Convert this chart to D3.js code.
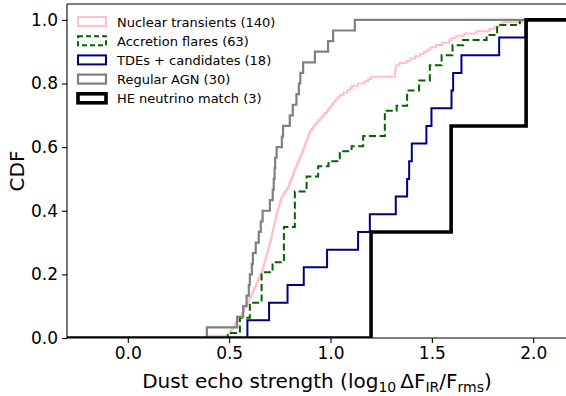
<!DOCTYPE html>
<html>
<head>
<meta charset="utf-8">
<script src="https://cdn.jsdelivr.net/npm/d3@7"></script>
<style>
    body { margin: 0; background: #fff; }
    svg { display: block; font-family: "DejaVu Sans", sans-serif; }
</style>
</head>
<body>
<svg class="cdfPlot"></svg>
<script>
// dust echo strength values (log10 dF_IR / F_rms)
const nuclearTransients = [
    0.39, 0.498, 0.505, 0.512, 0.520, 0.528, 0.535, 0.543, 0.550, 0.557,
    0.562, 0.568, 0.574, 0.580, 0.585, 0.591, 0.597, 0.603, 0.609, 0.614,
    0.619, 0.624, 0.629, 0.634, 0.639, 0.644, 0.649, 0.654, 0.659, 0.663,
    0.666, 0.669, 0.673, 0.676, 0.679, 0.682, 0.685, 0.688, 0.692, 0.695,
    0.698, 0.701, 0.704, 0.706, 0.709, 0.711, 0.714, 0.717, 0.719, 0.722,
    0.725, 0.727, 0.730, 0.732, 0.735, 0.738, 0.741, 0.745, 0.748, 0.751,
    0.754, 0.758, 0.764, 0.771, 0.779, 0.786, 0.793, 0.797, 0.801, 0.805,
    0.810, 0.814, 0.818, 0.823, 0.828, 0.833, 0.837, 0.842, 0.846, 0.851,
    0.855, 0.860, 0.864, 0.869, 0.873, 0.877, 0.881, 0.886, 0.890, 0.894,
    0.899, 0.906, 0.914, 0.921, 0.930, 0.940, 0.951, 0.962, 0.972, 0.982,
    0.990, 0.999, 1.007, 1.015, 1.024, 1.035, 1.046, 1.064, 1.084, 1.096,
    1.106, 1.136, 1.168, 1.185, 1.201, 1.317, 1.318, 1.320, 1.322, 1.325,
    1.340, 1.375, 1.394, 1.417, 1.442, 1.460, 1.477, 1.493, 1.520, 1.550,
    1.585, 1.598, 1.618, 1.660, 1.720, 1.784, 1.810, 1.832, 1.847, 1.949
];
const accretionFlares = [
    0.493, 0.553, 0.553, 0.553, 0.602, 0.602, 0.602, 0.66, 0.66, 0.66,
    0.66, 0.66, 0.66, 0.714, 0.714, 0.77, 0.77, 0.77, 0.77, 0.77,
    0.77, 0.77, 0.824, 0.824, 0.824, 0.824, 0.824, 0.824, 0.824, 0.882,
    0.882, 0.882, 0.939, 0.939, 0.99, 1.046, 1.046, 1.104, 1.161, 1.161,
    1.268, 1.268, 1.268, 1.268, 1.268, 1.326, 1.378, 1.378, 1.378, 1.437,
    1.437, 1.49, 1.49, 1.49, 1.548, 1.548, 1.602, 1.602, 1.654, 1.77,
    1.822, 1.822, 1.934
];
const tdeCandidates = [
    0.59, 0.697, 0.788, 0.868, 0.983, 1.136, 1.194, 1.322, 1.378, 1.388,
    1.401, 1.473, 1.498, 1.597, 1.605, 1.646, 1.832, 1.963
];
const regularAGN = [
    0.39, 0.539, 0.569, 0.586, 0.597, 0.602, 0.612, 0.617, 0.631, 0.646,
    0.656, 0.665, 0.701, 0.715, 0.72, 0.724, 0.727, 0.734, 0.76, 0.766,
    0.799, 0.814, 0.832, 0.844, 0.851, 0.865, 0.923, 0.988, 1.013, 1.12
];
const neutrinoMatch = [1.2, 1.595, 1.965];

const seriesNames = ["Nuclear transients (140)", "Accretion flares (63)", "TDEs + candidates (18)", "Regular AGN (30)", "HE neutrino match (3)"];
const seriesValues = [nuclearTransients, accretionFlares, tdeCandidates, regularAGN, neutrinoMatch];
const seriesColors = ["pink", "darkgreen", "navy", "grey", "black"];
const seriesWidths = [2, 2, 2, 2.2, 3.6];
const seriesDash = [null, "7,3.5", null, null, null];

const xTicks = [0, 0.5, 1.0, 1.5, 2.0];
const yTicks = [0, 0.2, 0.4, 0.6, 0.8, 1.0];

const margin = {top: 4, left: 67, bottom: 58},
    totalW = 566, totalH = 396;

const xMin = -0.3, xMax = 2.26;
const x = d3.scaleLinear().domain([xMin, xMax]).range([margin.left, margin.left + (xMax - xMin) * 202.7]);
const y = d3.scaleLinear().domain([0, 1.05]).range([totalH - margin.bottom, margin.top]);

const svg = d3.select(".cdfPlot")
    .attr("width", totalW)
    .attr("height", totalH);

svg.append("defs").append("clipPath").attr("id", "plotClip")
    .append("rect")
    .attr("x", x(xMin)).attr("y", y(1.05))
    .attr("width", x(xMax) - x(xMin)).attr("height", y(0) - y(1.05));

// step ECDF from the left edge to the right edge
const line = d3.line()
    .x(d => x(d[0]))
    .y(d => y(d[1]))
    .curve(d3.curveStepAfter);

const curves = svg.append("g").attr("clip-path", "url(#plotClip)");
seriesValues.forEach((vals, i) => {
    const sorted = vals.slice().sort(d3.ascending);
    const pts = [[xMin, 0]];
    sorted.forEach((v, j) => pts.push([v, (j + 1) / sorted.length]));
    pts.push([xMax, 1]);
    curves.append("path")
        .attr("d", line(pts))
        .attr("fill", "none")
        .attr("stroke", seriesColors[i])
        .attr("stroke-width", seriesWidths[i])
        .attr("stroke-dasharray", seriesDash[i])
        .attr("stroke-linejoin", "miter");
});

// axes
svg.append("g")
    .attr("transform", `translate(0,${y(0)})`)
    .call(d3.axisBottom(x).tickValues(xTicks).tickFormat(d3.format(".1f")).tickSizeOuter(0).tickSize(5).tickPadding(4));
svg.append("g")
    .attr("transform", `translate(${x(xMin)},0)`)
    .call(d3.axisLeft(y).tickValues(yTicks).tickFormat(d3.format(".1f")).tickSizeOuter(0).tickSize(5).tickPadding(4));

svg.selectAll(".domain").remove();
svg.selectAll(".tick line").attr("stroke", "black").attr("stroke-width", 1.1);
svg.selectAll(".tick text")
    .style("font-size", "17px")
    .style("font-family", "DejaVu Sans")
    .attr("fill", "black");

// spines
const spines = svg.append("g").attr("stroke", "black").attr("stroke-width", 1.1).attr("fill", "none");
spines.append("line").attr("x1", x(xMin)).attr("x2", x(xMin)).attr("y1", y(0)).attr("y2", y(1.05));
spines.append("line").attr("x1", x(xMin)).attr("x2", x(xMax)).attr("y1", y(1.05)).attr("y2", y(1.05));
spines.append("line").attr("x1", x(xMin)).attr("x2", x(xMax)).attr("y1", y(0)).attr("y2", y(0));

// axis labels
svg.append("text")
    .attr("transform", `translate(24,${(y(0) + y(1.05)) / 2}) rotate(-90)`)
    .attr("text-anchor", "middle")
    .style("font-size", "20px")
    .text("CDF");

const xl = svg.append("text")
    .attr("x", 317)
    .attr("y", 388)
    .attr("text-anchor", "middle")
    .style("font-size", "20px");
xl.append("tspan").text("Dust echo strength (log");
xl.append("tspan").attr("dy", 4).style("font-size", "14px").text("10");
xl.append("tspan").attr("dy", -4).text("\u2009\u0394F");
xl.append("tspan").attr("dy", 4).style("font-size", "14px").text("IR");
xl.append("tspan").attr("dy", -4).text("/F");
xl.append("tspan").attr("dy", 4).style("font-size", "14px").text("rms");
xl.append("tspan").attr("dy", -4).text(")");

// legend
const legend = svg.append("g");
seriesNames.forEach((name, i) => {
    const row = legend.append("g").attr("transform", `translate(78,${17 + i * 19.2})`);
    row.append("rect")
        .attr("width", 28).attr("height", 9)
        .attr("fill", "none")
        .attr("stroke", seriesColors[i])
        .attr("stroke-width", seriesWidths[i])
        .attr("stroke-dasharray", seriesDash[i] ? "5,3" : null);
    row.append("text")
        .attr("x", 39).attr("y", 9.5)
        .style("font-size", "13px")
        .text(name);
});
</script>
</body>
</html>
